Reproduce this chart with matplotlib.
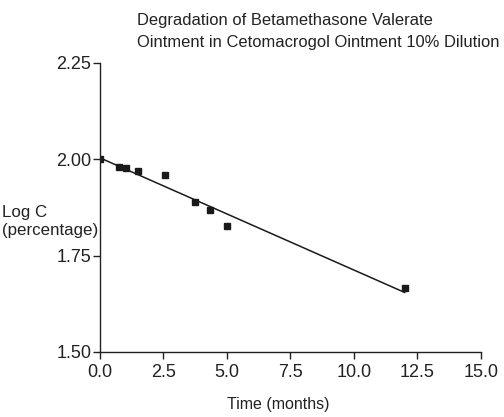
import matplotlib
matplotlib.use("Agg")
import matplotlib.pyplot as plt
import numpy as np

plt.rcParams['font.family'] = ['Liberation Sans', 'DejaVu Sans']

time_months = [0.0, 0.75, 1.05, 1.5, 2.55, 3.75, 4.35, 5.0, 12.0]
log_c = [2.000, 1.979, 1.978, 1.969, 1.959, 1.888, 1.868, 1.828, 1.665]
fit_x = [0.0, 12.0]

x_ticks = [0.0, 2.5, 5.0, 7.5, 10.0, 12.5, 15.0]
y_ticks = [1.50, 1.75, 2.00, 2.25]

fig = plt.figure(figsize=(5.04, 4.17), dpi=100)
ax = fig.add_axes([0.198, 0.156, 0.756, 0.693])

slope, intercept = np.polyfit(time_months, log_c, 1)
fx = np.array(fit_x)
ax.plot(fx, intercept + slope * fx, color='#1a1a1a', lw=1.1)
ax.plot(time_months, log_c, 's', color='#1a1a1a', markersize=5)

ax.set_xlim(0, 15)
ax.set_ylim(1.5, 2.25)
ax.set_xticks(x_ticks)
ax.set_xticklabels([f"{v:.1f}" for v in x_ticks])
ax.set_yticks(y_ticks)
ax.set_yticklabels([f"{v:.2f}" for v in y_ticks])
for s in ['top', 'right']:
    ax.spines[s].set_visible(False)
for s in ['left', 'bottom']:
    ax.spines[s].set_color('#222222')
    ax.spines[s].set_linewidth(1.0)
ax.tick_params(direction='out', length=5, width=1.0, colors='#222222', labelsize=13)
ax.tick_params(axis='x', pad=4)
ax.tick_params(axis='y', pad=1)

fig.text(137/504, 1 - 20/417, "Degradation of Betamethasone Valerate", fontsize=11.9,
         ha='left', va='center', color='#222222')
fig.text(137/504, 1 - 42/417, "Ointment in Cetomacrogol Ointment 10% Dilution", fontsize=11.9,
         ha='left', va='center', color='#222222')
fig.text(2/504, 1 - 222/417, "Log C\n(percentage)", fontsize=12.2, ha='left', va='center',
         color='#222222', linespacing=1.25)
fig.text(278/504, 1 - 405/417, "Time (months)", fontsize=11.5, ha='center', va='center',
         color='#222222')

fig.savefig("out.png", dpi=100)
